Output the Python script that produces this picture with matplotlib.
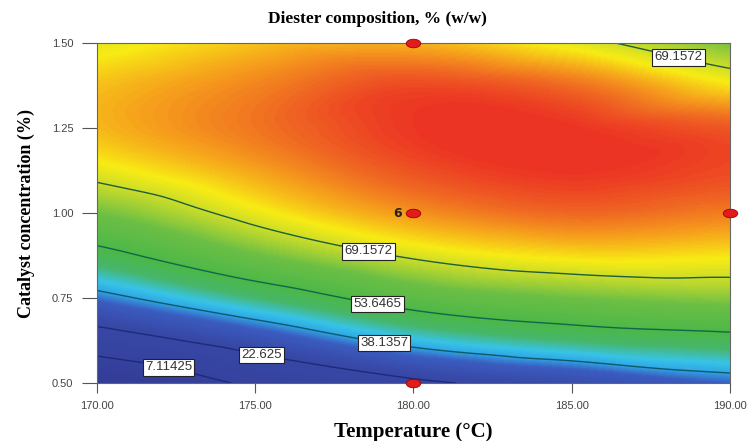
import numpy as np
import matplotlib
matplotlib.use('Agg')
import matplotlib.pyplot as plt
import matplotlib.tri as mtri
from matplotlib.colors import LinearSegmentedColormap, Normalize
from matplotlib.path import Path
from matplotlib.transforms import Affine2D

# ---------------- data ----------------
temperature = [170, 175, 180, 185, 190]                      # °C
catalyst = [0.5, 0.625, 0.75, 0.875, 1.0, 1.125, 1.25, 1.375, 1.5]  # %
# diester composition, rows = catalyst level, cols = temperature
diester = [
    [-8.4,  9.5, 20.5, 27.0, 34.0],
    [15.7, 28.6, 41.2, 47.6, 50.7],
    [35.1, 47.3, 58.0, 62.5, 64.5],
    [50.6, 62.0, 70.0, 73.5, 73.0],
    [62.5, 71.5, 78.0, 81.0, 79.5],
    [71.2, 77.0, 82.5, 84.5, 83.0],
    [75.6, 80.0, 84.3, 84.5, 82.0],
    [75.1, 79.0, 83.0, 80.5, 73.0],
    [71.0, 75.0, 76.0, 71.0, 63.0],
]
contour_levels = [7.11425, 22.625, 38.1357, 53.6465, 69.1572]
contour_texts = ['7.11425', '22.625', '38.1357', '53.6465', '69.1572']
z_min, z_max = -8.397, 84.668

design_temp = [180, 180, 190, 180]
design_cat = [1.5, 1.0, 1.0, 0.5]
center_reps = '6'

x_ticks = [170, 175, 180, 185, 190]
y_ticks = [0.50, 0.75, 1.00, 1.25, 1.50]

# label anchor positions (temperature, catalyst)
label_temp = [172.3, 175.2, 179.1, 178.9, 178.6, 188.4]
label_cat = [0.559, 0.588, 0.632, 0.753, 0.900, 1.470]

# ---------------- figure ----------------
fig = plt.figure(figsize=(7.51, 4.41), dpi=100)
ax = fig.add_axes([0.129, 0.1315, 0.843, 0.771])

T = np.array(temperature, float)
C = np.array(catalyst, float)
Z = np.array(diester, float)
TT, CC = np.meshgrid(T, C)
tspan = T.max() - T.min()
cspan = C.max() - C.min()
tri = mtri.Triangulation(((TT - T.min()) / tspan).ravel(), ((CC - C.min()) / cspan).ravel())
interp = mtri.CubicTriInterpolator(tri, Z.ravel(), kind='geom')

# evaluate the library interpolator on a fine regular grid
un = np.linspace(0, 1, 400)
vn = np.linspace(0, 1, 240)
UN, VN = np.meshgrid(un, vn)
Zf = np.asarray(interp(UN, VN))
Tf = UN * tspan + T.min()
Cf = VN * cspan + C.min()

cmap = LinearSegmentedColormap.from_list('de', [
    (0.00, '#343d98'),
    (0.35, '#3848a6'),
    (0.45, '#3b5cc0'),
    (0.50, '#2fa8e6'),
    (0.54, '#38c4e6'),
    (0.60, '#47b66a'),
    (0.66, '#4bb848'),
    (0.76, '#6cbf45'),
    (0.83, '#c8dc2a'),
    (0.87, '#f8ec14'),
    (0.92, '#f6a21c'),
    (0.96, '#f06a22'),
    (1.00, '#ec3424'),
])
norm = Normalize(vmin=z_min, vmax=z_max)

ax.imshow(Zf, origin='lower', extent=(T.min(), T.max(), C.min(), C.max()),
          aspect='auto', cmap=cmap, norm=norm, interpolation='bilinear')

line_colors = ['#1d2a78', '#1d2a78', '#0d5a6a', '#12664a', '#1f5e3a']
cs = ax.contour(Tf, Cf, Zf, levels=contour_levels, colors=line_colors, linewidths=1.0)
fmt = {lv: tx for lv, tx in zip(cs.levels, contour_texts)}
labels = ax.clabel(cs, cs.levels, fmt=fmt, inline=False, fontsize=9.5,
                   manual=list(zip(label_temp, label_cat)))
for t in labels:
    t.set_rotation(0)
    t.set_color('#333333')
    t.set_family('Liberation Sans')
    t.set_bbox(dict(facecolor='white', edgecolor='#222222', linewidth=0.8, pad=1.6))
    t.set_zorder(6)

ell = Path.unit_circle().transformed(Affine2D().scale(1.7, 1.0))
ax.scatter(design_temp, design_cat, marker=ell, s=110, c='#e31b1b',
           edgecolors='#9a0000', linewidths=0.6, zorder=7, clip_on=False)
ax.annotate(center_reps, xy=(design_temp[1], design_cat[1]), xytext=(-8, 0),
            textcoords='offset points', ha='right', va='center',
            fontweight='bold', fontsize=9, color='#222222', zorder=8)

ax.set_xlim(T.min(), T.max())
ax.set_ylim(C.min(), C.max())
ax.set_xticks(x_ticks)
ax.set_yticks(y_ticks)
ax.set_xticklabels([f'{v:.2f}' for v in x_ticks])
ax.set_yticklabels([f'{v:.2f}' for v in y_ticks])
ax.tick_params(axis='both', direction='out', width=0.8, color='#555555',
               labelsize=8, labelcolor='#444444')
ax.tick_params(axis='x', length=7, pad=6)
ax.tick_params(axis='y', length=11, pad=6)
for lab in ax.get_xticklabels() + ax.get_yticklabels():
    lab.set_family('Liberation Sans')
for sp in ax.spines.values():
    sp.set_color('#666666')
    sp.set_linewidth(0.8)

fig.text(0.503, 0.958, 'Diester composition, % (w/w)', ha='center', va='center',
         family='Liberation Serif', fontweight='bold', fontsize=12.5)
ax.set_xlabel('Temperature (\u00b0C)', family='Liberation Serif', fontweight='bold',
              fontsize=15, labelpad=8)
ax.set_ylabel('Catalyst concentration (%)', family='Liberation Serif', fontweight='bold',
              fontsize=13, labelpad=12)

fig.savefig('out.png', dpi=100)
